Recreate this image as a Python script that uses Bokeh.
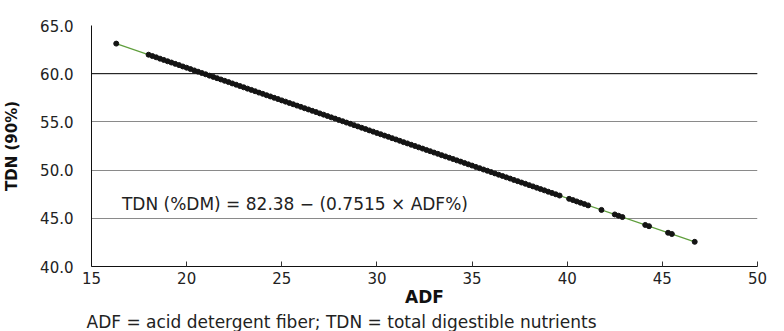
from bokeh.plotting import figure
from bokeh.models import FixedTicker, Label, Span, PrintfTickFormatter, Title
from bokeh.embed import file_html
from bokeh.resources import INLINE

# ---- data ----
adf = [16.3,
       18.0, 18.2, 18.4, 18.6, 18.8, 19.0, 19.2, 19.4, 19.6, 19.8,
       20.0, 20.2, 20.4, 20.6, 20.8, 21.0, 21.2, 21.4, 21.6, 21.8,
       22.0, 22.2, 22.4, 22.6, 22.8, 23.0, 23.2, 23.4, 23.6, 23.8,
       24.0, 24.2, 24.4, 24.6, 24.8, 25.0, 25.2, 25.4, 25.6, 25.8,
       26.0, 26.2, 26.4, 26.6, 26.8, 27.0, 27.2, 27.4, 27.6, 27.8,
       28.0, 28.2, 28.4, 28.6, 28.8, 29.0, 29.2, 29.4, 29.6, 29.8,
       30.0, 30.2, 30.4, 30.6, 30.8, 31.0, 31.2, 31.4, 31.6, 31.8,
       32.0, 32.2, 32.4, 32.6, 32.8, 33.0, 33.2, 33.4, 33.6, 33.8,
       34.0, 34.2, 34.4, 34.6, 34.8, 35.0, 35.2, 35.4, 35.6, 35.8,
       36.0, 36.2, 36.4, 36.6, 36.8, 37.0, 37.2, 37.4, 37.6, 37.8,
       38.0, 38.2, 38.4, 38.6, 38.8, 39.0, 39.2, 39.4, 39.6,
       40.1, 40.3, 40.5, 40.7, 40.9, 41.1, 41.8, 42.5, 42.7, 42.9,
       44.1, 44.3, 45.3, 45.5, 46.7]
tdn = [63.12,
       61.97, 61.83, 61.70, 61.56, 61.43, 61.29, 61.16, 61.02, 60.89, 60.75,
       60.62, 60.48, 60.34, 60.21, 60.07, 59.94, 59.80, 59.67, 59.53, 59.40,
       59.26, 59.13, 58.99, 58.86, 58.72, 58.59, 58.45, 58.32, 58.18, 58.04,
       57.91, 57.77, 57.64, 57.50, 57.37, 57.23, 57.10, 56.96, 56.83, 56.69,
       56.56, 56.42, 56.29, 56.15, 56.02, 55.88, 55.75, 55.61, 55.47, 55.34,
       55.20, 55.07, 54.93, 54.80, 54.66, 54.53, 54.39, 54.26, 54.12, 53.99,
       53.85, 53.72, 53.58, 53.45, 53.31, 53.18, 53.04, 52.90, 52.77, 52.63,
       52.50, 52.36, 52.23, 52.09, 51.96, 51.82, 51.69, 51.55, 51.42, 51.28,
       51.15, 51.01, 50.88, 50.74, 50.60, 50.47, 50.33, 50.20, 50.06, 49.93,
       49.79, 49.66, 49.52, 49.39, 49.25, 49.12, 48.98, 48.85, 48.71, 48.58,
       48.44, 48.31, 48.17, 48.03, 47.90, 47.76, 47.63, 47.49, 47.36,
       47.02, 46.89, 46.75, 46.61, 46.48, 46.34, 45.87, 45.40, 45.26, 45.13,
       44.31, 44.18, 43.50, 43.37, 42.56]
trend_adf = [16.3, 46.7]
trend_tdn = [63.12, 42.56]
x_ticks = [15, 20, 25, 30, 35, 40, 45, 50]
y_ticks = [40, 45, 50, 55, 60, 65]
equation = "TDN (%DM) = 82.38 \u2212 (0.7515 \u00d7 ADF%)"
footnote = "ADF = acid detergent fiber; TDN = total digestible nutrients"

FONT = "DejaVu Sans"
TXT = "#222222"

p = figure(width=784, height=331, x_range=(15, 50), y_range=(40, 65),
           output_backend="svg", toolbar_location=None,
           min_border_left=87, min_border_right=27,
           min_border_top=25, min_border_bottom=10)
p.outline_line_color = None
p.background_fill_color = "white"
p.border_fill_color = "white"

p.xgrid.visible = False
p.ygrid.ticker = FixedTicker(ticks=y_ticks[1:])
p.ygrid.grid_line_color = "#8a8a8a"
p.ygrid.grid_line_width = 1
p.add_layout(Span(location=60, dimension="width", line_color="#111111", line_width=1))

p.xaxis.ticker = FixedTicker(ticks=x_ticks)
p.xaxis.axis_line_color = "#111111"
p.xaxis.major_tick_in = 5
p.xaxis.major_tick_out = 0
p.xaxis.major_tick_line_color = "#333333"
p.xaxis.minor_tick_line_color = None
p.xaxis.major_label_standoff = 5
p.xaxis.major_label_text_font = FONT
p.xaxis.major_label_text_font_size = "15px"
p.xaxis.major_label_text_color = TXT
p.xaxis.axis_label = "ADF"
p.xaxis.axis_label_text_font = FONT
p.xaxis.axis_label_text_font_size = "17px"
p.xaxis.axis_label_text_font_style = "bold"
p.xaxis.axis_label_text_color = "#111111"
p.xaxis.axis_label_standoff = 0

p.yaxis.ticker = FixedTicker(ticks=y_ticks)
p.yaxis.formatter = PrintfTickFormatter(format="%.1f")
p.yaxis.axis_line_color = "#111111"
p.yaxis.major_tick_line_color = None
p.yaxis.minor_tick_line_color = None
p.yaxis.major_label_standoff = 12
p.yaxis.major_label_text_font = FONT
p.yaxis.major_label_text_font_size = "15px"
p.yaxis.major_label_text_color = TXT
p.yaxis.axis_label = "TDN (90%)"
p.yaxis.axis_label_text_font = FONT
p.yaxis.axis_label_text_font_size = "15px"
p.yaxis.axis_label_text_font_style = "bold"
p.yaxis.axis_label_text_color = "#111111"
p.yaxis.axis_label_standoff = 16

p.line(trend_adf, trend_tdn, line_color="#5f9e3c", line_width=1.2)
p.scatter(adf, tdn, size=5, marker="circle", fill_color="#141414", line_color="#141414")

p.add_layout(Label(x=16.6, y=46.5, text=equation, text_font=FONT,
                   text_font_size="17px", text_color=TXT, text_baseline="middle"))
p.add_layout(Title(text=footnote, align="left", offset=-5, standoff=0,
                   text_font=FONT, text_font_size="17px", text_font_style="normal",
                   text_color=TXT), "below")

open("out.html", "w").write(file_html(p, INLINE))
